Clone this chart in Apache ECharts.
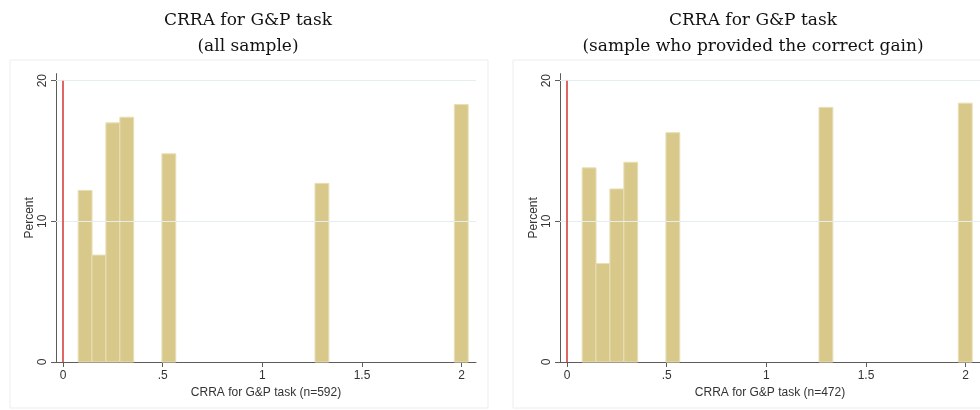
<!DOCTYPE html>
<html>
<head>
<meta charset="utf-8">
<script src="https://cdn.jsdelivr.net/npm/echarts@6/dist/echarts.min.js"></script>
<style>
html,body{margin:0;padding:0;background:#fff;}
#chart{width:980px;height:410px;}
</style>
</head>
<body>
<div id="chart"></div>
<script>
// ---- data ----
const binCenters = [0.111, 0.180, 0.250, 0.320, 0.531, 1.299, 1.998];
const binWidth = 0.0695;
const pctAll = [12.2, 7.6, 17.0, 17.4, 14.8, 12.7, 18.3];
const pctCorrect = [13.8, 7.0, 12.3, 14.2, 16.3, 18.1, 18.4];
const xTicks = [0, 0.5, 1, 1.5, 2];
const xTickLabels = ['0', '.5', '1', '1.5', '2'];
const yTicks = [0, 10, 20];
const gridLines = [10, 20];
const refLineX = 0;
const refLineY = [0, 20];
const titleLeft = ['CRRA for G&P task', '(all sample)'];
const titleRight = ['CRRA for G&P task', '(sample who provided the correct gain)'];
const xNameLeft = 'CRRA for G&P task (n=592)';
const xNameRight = 'CRRA for G&P task (n=472)';
const yName = 'Percent';

// ---- chart ----
const chart = echarts.init(document.getElementById('chart'), null, {renderer: 'canvas'});
const barFill = '#d8c98b';
const barStroke = '#e8dfb6';
const axisColor = '#5c5c5c';
const labelColor = '#333';
const sansFont = 'Liberation Sans, Arial, sans-serif';

function renderBar(params, api) {
  const c = api.value(0), h = api.value(1);
  const p0 = api.coord([c - binWidth / 2, h]);
  const p1 = api.coord([c + binWidth / 2, 0]);
  return {
    type: 'rect',
    shape: {x: p0[0], y: p0[1], width: p1[0] - p0[0], height: p1[1] - p0[1]},
    style: {fill: barFill, stroke: barStroke, lineWidth: 1}
  };
}

function xAxisFor(i, name) {
  return {
    type: 'value', gridIndex: i, min: -0.03512, max: 2.072,
    name: name, nameLocation: 'middle', nameGap: 19,
    nameTextStyle: {color: labelColor, fontFamily: sansFont, fontSize: 12},
    axisLine: {show: true, onZero: false, lineStyle: {color: axisColor, width: 1}},
    axisTick: {show: true, length: 5, customValues: xTicks, lineStyle: {color: axisColor}},
    axisLabel: {customValues: xTicks, margin: 8, color: labelColor, fontFamily: sansFont, fontSize: 12,
      formatter: v => { const k = xTicks.findIndex(t => Math.abs(t - v) < 1e-6); return k >= 0 ? xTickLabels[k] : ''; }},
    splitLine: {show: false}
  };
}
function yAxisFor(i) {
  return {
    type: 'value', gridIndex: i, min: 0, max: 20.5,
    name: yName, nameLocation: 'middle', nameGap: 19,
    nameTextStyle: {color: labelColor, fontFamily: sansFont, fontSize: 12},
    axisLine: {show: true, onZero: false, lineStyle: {color: axisColor, width: 1}},
    axisTick: {show: true, length: 5, customValues: yTicks, lineStyle: {color: axisColor}},
    axisLabel: {customValues: yTicks, rotate: 90, margin: 7, color: labelColor, fontFamily: sansFont, fontSize: 12},
    splitLine: {show: false}
  };
}
function titleTexts(lines, cx) {
  return lines.map((t, k) => ({
    type: 'text', x: cx, y: k === 0 ? 21 : 47, z: 10,
    style: {text: t, align: 'center', verticalAlign: 'middle', fill: '#111',
      font: '17px "DejaVu Serif", "Liberation Serif", serif'}
  }));
}
function gridSeries(i) {
  return {
    type: 'line', xAxisIndex: i, yAxisIndex: i, data: [], z: 1, silent: true,
    markLine: {silent: true, symbol: 'none', label: {show: false},
      lineStyle: {color: '#e4eef0', width: 1, type: 'solid'},
      data: gridLines.map(v => ({yAxis: v}))}
  };
}
function refSeries(i) {
  return {
    type: 'line', xAxisIndex: i, yAxisIndex: i, z: 6, silent: true,
    symbol: 'none', lineStyle: {color: '#d9403f', width: 1.6},
    data: refLineY.map(y => [refLineX, y])
  };
}
function barSeries(i, vals) {
  return {
    type: 'custom', xAxisIndex: i, yAxisIndex: i, z: 3,
    renderItem: renderBar,
    encode: {x: 0, y: 1},
    data: binCenters.map((c, k) => [c, vals[k]])
  };
}

chart.setOption({
  backgroundColor: '#fff',
  animation: false,
  grid: [
    {left: 56, top: 73.6, width: 420, height: 288.4},
    {left: 560, top: 73.6, width: 420, height: 288.4}
  ],
  xAxis: [xAxisFor(0, xNameLeft), xAxisFor(1, xNameRight)],
  yAxis: [yAxisFor(0), yAxisFor(1)],
  graphic: [
    {type: 'rect', shape: {x: 10, y: 60, width: 478, height: 348}, style: {fill: 'none', stroke: '#ededed', lineWidth: 1}, z: -1},
    {type: 'rect', shape: {x: 513, y: 60, width: 480, height: 348}, style: {fill: 'none', stroke: '#ededed', lineWidth: 1}, z: -1},
    ...titleTexts(titleLeft, 248),
    ...titleTexts(titleRight, 753)
  ],
  series: [gridSeries(0), gridSeries(1), barSeries(0, pctAll), barSeries(1, pctCorrect), refSeries(0), refSeries(1)]
});
</script>
</body>
</html>
